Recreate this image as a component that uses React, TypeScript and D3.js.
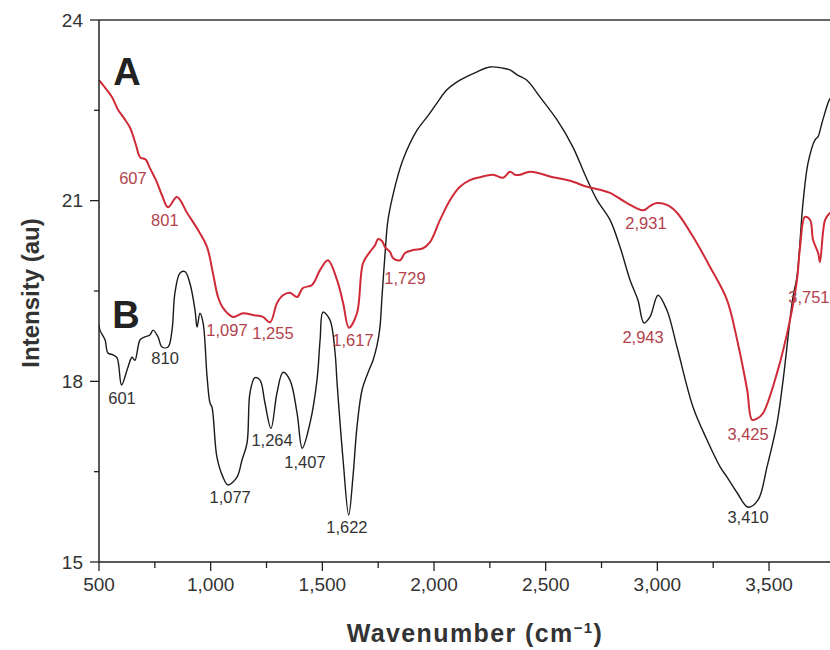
import React from 'react';
import * as d3 from 'd3';

// Spectrum A (red)
const aWave = [500, 522, 558, 585, 612, 639, 666, 684, 710, 728, 755, 782, 809, 849, 894, 952, 984, 1010, 1033, 1055, 1100, 1145, 1190, 1234, 1266, 1297, 1324, 1355, 1387, 1413, 1454, 1490, 1525, 1566, 1593, 1619, 1655, 1682, 1713, 1736, 1749, 1767, 1781, 1803, 1816, 1848, 1870, 1906, 1951, 1982, 2027, 2072, 2116, 2161, 2206, 2264, 2309, 2340, 2363, 2385, 2430, 2533, 2609, 2685, 2743, 2788, 2864, 2936, 2967, 2998, 3043, 3088, 3160, 3236, 3312, 3357, 3402, 3424, 3446, 3473, 3536, 3594, 3625, 3639, 3661, 3684, 3697, 3720, 3728, 3751, 3773];
const aInt = [23.0, 22.9, 22.72, 22.51, 22.37, 22.21, 21.92, 21.72, 21.68, 21.54, 21.34, 21.09, 20.89, 21.06, 20.8, 20.46, 20.23, 19.8, 19.4, 19.22, 19.07, 19.13, 19.1, 19.07, 18.98, 19.3, 19.43, 19.47, 19.4, 19.55, 19.6, 19.85, 20.01, 19.68, 19.3, 18.89, 19.13, 19.96, 20.15, 20.26, 20.36, 20.33, 20.23, 20.15, 20.05, 20.01, 20.13, 20.18, 20.21, 20.31, 20.68, 21.01, 21.23, 21.34, 21.39, 21.43, 21.38, 21.48, 21.43, 21.43, 21.48, 21.39, 21.33, 21.23, 21.18, 21.13, 20.96, 20.84, 20.91, 20.96, 20.93, 20.8, 20.4, 19.9, 19.35, 18.69, 17.86, 17.36, 17.38, 17.47, 18.14, 19.02, 19.68, 20.23, 20.73, 20.68, 20.35, 20.13, 19.98, 20.68, 20.8];

// Spectrum B (black)
const bWave = [500, 504, 527, 540, 563, 581, 601, 630, 648, 661, 684, 706, 728, 742, 764, 782, 809, 827, 840, 863, 885, 907, 930, 939, 952, 966, 984, 997, 1006, 1028, 1055, 1077, 1118, 1140, 1163, 1176, 1198, 1221, 1243, 1270, 1297, 1324, 1355, 1387, 1410, 1445, 1476, 1490, 1503, 1534, 1557, 1566, 1593, 1618, 1637, 1655, 1678, 1704, 1727, 1745, 1758, 1767, 1781, 1794, 1825, 1861, 1924, 1969, 2013, 2058, 2116, 2193, 2251, 2309, 2340, 2372, 2416, 2475, 2551, 2622, 2676, 2730, 2788, 2833, 2878, 2913, 2940, 2967, 3003, 3043, 3088, 3160, 3222, 3281, 3312, 3357, 3406, 3451, 3491, 3536, 3563, 3607, 3625, 3652, 3675, 3706, 3719, 3737, 3764, 3773];
const bInt = [18.94, 18.85, 18.69, 18.47, 18.44, 18.39, 17.94, 18.24, 18.4, 18.35, 18.69, 18.74, 18.77, 18.85, 18.74, 18.57, 18.57, 18.85, 19.47, 19.8, 19.82, 19.63, 19.18, 18.9, 19.13, 18.97, 18.07, 17.64, 17.57, 16.74, 16.41, 16.28, 16.41, 16.69, 16.98, 17.81, 18.06, 18.02, 17.64, 17.22, 17.81, 18.15, 18.02, 17.47, 16.89, 17.31, 18.02, 18.69, 19.15, 19.02, 18.47, 17.97, 16.69, 15.78, 16.41, 17.24, 17.86, 18.14, 18.35, 18.6, 18.9, 19.4, 20.13, 20.68, 21.23, 21.68, 22.17, 22.39, 22.62, 22.84, 23.0, 23.14, 23.22, 23.2, 23.17, 23.09, 23.0, 22.72, 22.34, 21.89, 21.43, 21.01, 20.68, 20.23, 19.68, 19.35, 18.97, 19.07, 19.43, 19.18, 18.57, 17.57, 17.03, 16.58, 16.41, 16.15, 15.91, 16.03, 16.58, 17.31, 18.02, 19.4, 19.73, 20.96, 21.63, 22.01, 22.06, 22.29, 22.62, 22.7];

// Peak annotations
const aLabels = ['607', '801', '1,097', '1,255', '1,617', '1,729', '2,931', '2,943', '3,425'];
const aLabelWave = [652, 795, 1073, 1279, 1637, 1870, 2949, 2936, 3406];
const aLabelInt = [21.38, 20.68, 18.85, 18.8, 18.69, 19.72, 20.63, 18.74, 17.13];
const aEdgeLabel = '3,751';
const aEdgeWave = 3771;
const aEdgeInt = 19.4;

const bLabels = ['601', '810', '1,077', '1,264', '1,407', '1,622', '3,410'];
const bLabelWave = [603, 796, 1087, 1275, 1422, 1610, 3406];
const bLabelInt = [17.72, 18.39, 16.08, 17.03, 16.66, 15.58, 15.75];

const xTicks = [500, 1000, 1500, 2000, 2500, 3000, 3500];
const xMinor = [750, 1250, 1750, 2250, 2750, 3250];
const yTicks = [15, 18, 21, 24];
const yMinor = [16.5, 19.5, 22.5];

const W = 830;
const H = 650;
const L = 99;
const T = 20;
const B = 562;

export default function App() {
  const x = d3.scaleLinear().domain([500, 3773]).range([L, W]);
  const y = d3.scaleLinear().domain([15, 24]).range([B, T]);
  const line = d3
    .line<[number, number]>()
    .x((d) => x(d[0]))
    .y((d) => y(d[1]))
    .curve(d3.curveCatmullRom.alpha(0.5));
  const aPath = line(aWave.map((w, i) => [w, aInt[i]]) as [number, number][]) || '';
  const bPath = line(bWave.map((w, i) => [w, bInt[i]]) as [number, number][]) || '';
  const fmt = d3.format(',');
  const font = 'Liberation Sans, Arial, sans-serif';
  const red = '#cf2b37';
  const redText = '#b2434c';
  return (
    <svg
      width={W}
      height={H}
      style={{ position: 'absolute', left: 0, top: 0, background: '#fff' }}
      fontFamily={font}
    >
      <defs>
        <clipPath id="plot">
          <rect x={L} y={T - 2} width={W - L} height={B - T + 2} />
        </clipPath>
      </defs>
      <rect x={0} y={0} width={W} height={H} fill="#fff" />
      <g clipPath="url(#plot)">
        <path d={bPath} fill="none" stroke="#1a1a1a" strokeWidth={1.4} />
        <path d={aPath} fill="none" stroke={red} strokeWidth={2} />
      </g>
      {/* frame */}
      <line x1={L} x2={W} y1={T} y2={T} stroke="#333" strokeWidth={1.5} />
      <line x1={L} x2={L} y1={T} y2={B} stroke="#222" strokeWidth={1.5} />
      <line x1={L} x2={W} y1={B} y2={B} stroke="#222" strokeWidth={1.5} />
      {/* y ticks */}
      {yTicks.map((t) => (
        <g key={'y' + t}>
          <line x1={L - 9} x2={L} y1={y(t)} y2={y(t)} stroke="#222" strokeWidth={1.3} />
          <text x={L - 16} y={y(t)} dy="0.35em" textAnchor="end" fontSize={19} fill="#333">
            {t}
          </text>
        </g>
      ))}
      {yMinor.map((t) => (
        <line key={'ym' + t} x1={L - 5} x2={L} y1={y(t)} y2={y(t)} stroke="#222" strokeWidth={1.3} />
      ))}
      {/* x ticks */}
      {xTicks.map((t) => (
        <g key={'x' + t}>
          <line x1={x(t)} x2={x(t)} y1={B} y2={B + 9} stroke="#222" strokeWidth={1.3} />
          <text x={x(t)} y={B + 22} dy="0.35em" textAnchor="middle" fontSize={19} fill="#333">
            {fmt(t)}
          </text>
        </g>
      ))}
      {xMinor.map((t) => (
        <line key={'xm' + t} x1={x(t)} x2={x(t)} y1={B} y2={B + 6} stroke="#222" strokeWidth={1.3} />
      ))}
      {/* axis titles */}
      <text
        x={475}
        y={633}
        dy="0.35em"
        textAnchor="middle"
        fontSize={25}
        letterSpacing={1.4}
        fontWeight="bold"
        fill="#333"
      >
        Wavenumber (cm
        <tspan fontSize={15} dy="-9">−1</tspan>
        <tspan dy="9">)</tspan>
      </text>
      <text
        transform={`translate(31,${293}) rotate(-90)`}
        dy="0.35em"
        textAnchor="middle"
        fontSize={24}
        fontWeight="bold"
        fill="#333"
      >
        Intensity (au)
      </text>
      {/* series letters */}
      <text x={127} y={72} dy="0.35em" textAnchor="middle" fontSize={38} fontWeight="bold" fill="#222">
        A
      </text>
      <text x={126} y={315} dy="0.35em" textAnchor="middle" fontSize={38} fontWeight="bold" fill="#222">
        B
      </text>
      {/* annotations */}
      {aLabels.map((s, i) => (
        <text
          key={'al' + s}
          x={x(aLabelWave[i])}
          y={y(aLabelInt[i])}
          dy="0.35em"
          textAnchor="middle"
          fontSize={16.5}
          fill={redText}
        >
          {s}
        </text>
      ))}
      <text x={x(aEdgeWave)} y={y(aEdgeInt)} dy="0.35em" textAnchor="end" fontSize={16.5} fill={redText}>
        {aEdgeLabel}
      </text>
      {bLabels.map((s, i) => (
        <text
          key={'bl' + s}
          x={x(bLabelWave[i])}
          y={y(bLabelInt[i])}
          dy="0.35em"
          textAnchor="middle"
          fontSize={16.5}
          fill="#333"
        >
          {s}
        </text>
      ))}
    </svg>
  );
}
